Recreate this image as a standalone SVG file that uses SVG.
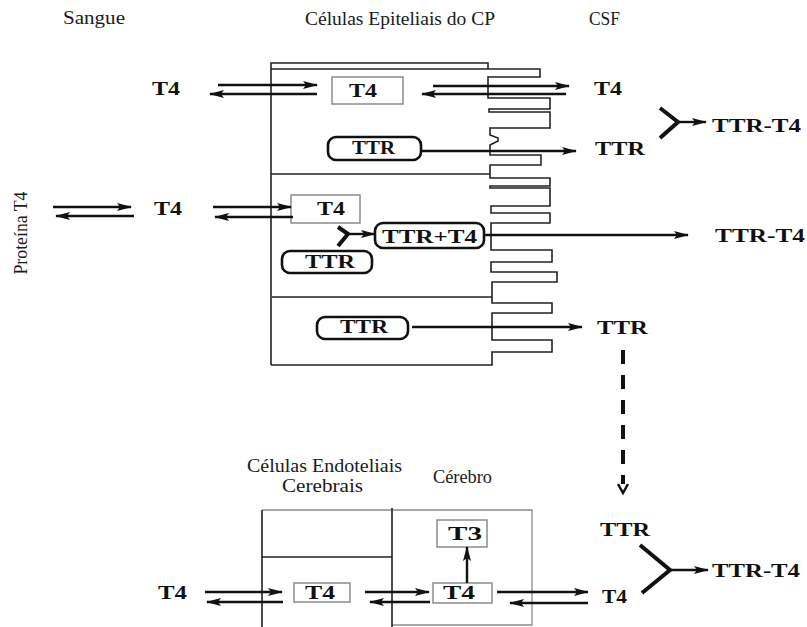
<svg xmlns="http://www.w3.org/2000/svg" width="807" height="627" viewBox="0 0 807 627">
<defs>
<style>
.hdr{font-size:18px;fill:#1a1a1a}
.lbl{font-weight:bold;font-size:18px;fill:#111}
.arr{stroke:#111;stroke-width:2.4;fill:none;marker-end:url(#ah)}
.thk{stroke:#111;stroke-width:4;fill:none}
.box{fill:#fff;stroke:#8c8c8c;stroke-width:1.5}
.rbox{fill:#fff;stroke:#111;stroke-width:2.6}
.wall{fill:none;stroke:#222;stroke-width:1.6}
.thin{fill:none;stroke:#8c8c8c;stroke-width:1.3}
</style>
<marker id="ah" viewBox="0 0 15 9" refX="14" refY="4.5" markerWidth="15" markerHeight="9" orient="auto" markerUnits="userSpaceOnUse">
<path d="M0,0.5 L15,4.5 L0,8.5 L3,4.5z" fill="#111"/>
</marker>
<marker id="ahb" viewBox="0 0 14 11" refX="13" refY="5.5" markerWidth="14" markerHeight="11" orient="auto" markerUnits="userSpaceOnUse">
<path d="M0,0 L14,5.5 L0,11 L2,5.5z" fill="#111"/>
</marker>
</defs>
<rect width="807" height="627" fill="#fff"/>

<g id="headers" font-family="Liberation Serif">
<text class="hdr" x="63" y="24" textLength="62" lengthAdjust="spacingAndGlyphs">Sangue</text>
<text class="hdr" x="305" y="25" textLength="190" lengthAdjust="spacingAndGlyphs">Células Epiteliais do CP</text>
<text class="hdr" x="589" y="25" textLength="31" lengthAdjust="spacingAndGlyphs">CSF</text>
<text class="hdr" transform="translate(27,233) rotate(-90)" text-anchor="middle" textLength="83" lengthAdjust="spacingAndGlyphs">Proteína T4</text>
</g>

<g id="cp-cell">
<path class="wall" d="M271,365 V63 H488 V69"/>
<path class="wall" d="M271,69 H540 V77 H488 V98 H550 V109 H489 V112 H550 V128 H490 V135 L498,138 L498,141 L490,145 V155 H541 V165 H490 V178 H550 V186 H490 V188 H550 V206 H491 V213 H550 V223 H491 V250 H552 V262 H491 V272 H557 V282 H492 V303 H552 V313 H492 V340 H552 V352 H492 V365 H271"/>
<path class="wall" d="M271,174 H490 M272,297 H492"/>
</g>

<g id="brain-cells">
<path class="thin" d="M262,510 H532 V625 H392"/>
<path class="wall" stroke-width="2.4" d="M262,510 V627 M392,508 V627"/>
<path class="wall" d="M262,557 H392"/>
</g>

<g id="nodes" font-family="Liberation Serif">
<g id="n-t4-blood1"><text class="lbl" x="152" y="95" textLength="28" lengthAdjust="spacingAndGlyphs">T4</text></g>
<g id="n-t4-cp1"><rect class="box" x="332" y="77" width="71" height="27"/><text class="lbl" x="349" y="97" textLength="28" lengthAdjust="spacingAndGlyphs">T4</text></g>
<g id="n-t4-csf1"><text class="lbl" x="594" y="95" textLength="28" lengthAdjust="spacingAndGlyphs">T4</text></g>
<g id="n-ttr-cp2"><rect class="rbox" x="328" y="137" width="93" height="23" rx="8"/><text class="lbl" x="352" y="154" textLength="43" lengthAdjust="spacingAndGlyphs">TTR</text></g>
<g id="n-ttr-csf2"><text class="lbl" x="595" y="155" textLength="50" lengthAdjust="spacingAndGlyphs">TTR</text></g>
<g id="n-ttrt4-csf1"><text class="lbl" x="712" y="132" textLength="89" lengthAdjust="spacingAndGlyphs">TTR-T4</text></g>
<g id="n-t4-blood3"><text class="lbl" x="154" y="215" textLength="28" lengthAdjust="spacingAndGlyphs">T4</text></g>
<g id="n-t4-cp3"><rect class="box" x="291" y="195" width="69" height="28"/><text class="lbl" x="317" y="215" textLength="28" lengthAdjust="spacingAndGlyphs">T4</text></g>
<g id="n-ttrt4-cp3"><rect class="rbox" x="375" y="223" width="109" height="25" rx="8"/><text class="lbl" x="382" y="243" textLength="95" lengthAdjust="spacingAndGlyphs">TTR+T4</text></g>
<g id="n-ttr-cp3"><rect class="rbox" x="282" y="251" width="90" height="22" rx="8"/><text class="lbl" x="305" y="268" textLength="50" lengthAdjust="spacingAndGlyphs">TTR</text></g>
<g id="n-ttrt4-csf3"><text class="lbl" x="715" y="242" textLength="90" lengthAdjust="spacingAndGlyphs">TTR-T4</text></g>
<g id="n-ttr-cp4"><rect class="rbox" x="317" y="317" width="91" height="22" rx="8"/><text class="lbl" x="340" y="333" textLength="48" lengthAdjust="spacingAndGlyphs">TTR</text></g>
<g id="n-ttr-csf4"><text class="lbl" x="597" y="334" textLength="51" lengthAdjust="spacingAndGlyphs">TTR</text></g>
<g id="n-endo-label"><text class="hdr" x="247" y="472" textLength="155" lengthAdjust="spacingAndGlyphs">Células Endoteliais</text><text class="hdr" x="282" y="492" textLength="81" lengthAdjust="spacingAndGlyphs">Cerebrais</text></g>
<g id="n-brain-label"><text class="hdr" x="433" y="483" textLength="59" lengthAdjust="spacingAndGlyphs">Cérebro</text></g>
<g id="n-t4-blood5"><text class="lbl" x="158" y="599" textLength="29" lengthAdjust="spacingAndGlyphs">T4</text></g>
<g id="n-t4-endo"><rect class="box" x="294" y="583" width="56" height="19"/><text class="lbl" x="305" y="599" textLength="30" lengthAdjust="spacingAndGlyphs">T4</text></g>
<g id="n-t3"><rect class="box" x="437" y="520" width="50" height="27"/><text class="lbl" x="448" y="540" textLength="34" lengthAdjust="spacingAndGlyphs" fill="#333">T3</text></g>
<g id="n-t4-brain"><rect class="box" x="433" y="583" width="59" height="20"/><text class="lbl" x="443" y="599" textLength="32" lengthAdjust="spacingAndGlyphs">T4</text></g>
<g id="n-ttr-csf5"><text class="lbl" x="600" y="536" textLength="50" lengthAdjust="spacingAndGlyphs">TTR</text></g>
<g id="n-t4-csf5"><text class="lbl" x="602" y="603" textLength="25" lengthAdjust="spacingAndGlyphs">T4</text></g>
<g id="n-ttrt4-csf5"><text class="lbl" x="712" y="577" textLength="88" lengthAdjust="spacingAndGlyphs">TTR-T4</text></g>
</g>

<g id="connectors">
<line class="arr" x1="218" y1="85" x2="317" y2="85"/>
<line class="arr" x1="317" y1="94" x2="210" y2="94"/>
<line class="arr" x1="433" y1="86" x2="569" y2="86"/>
<line class="arr" x1="566" y1="94" x2="422" y2="94"/>
<line class="arr" x1="421" y1="151" x2="576" y2="151"/>
<path class="thk" d="M660,108 L678,122 L660,138"/>
<line class="arr" x1="678" y1="122" x2="706" y2="122"/>
<line class="arr" x1="53" y1="207" x2="131" y2="207"/>
<line class="arr" x1="134" y1="216" x2="56" y2="216"/>
<line class="arr" x1="213" y1="207" x2="291" y2="207"/>
<line class="arr" x1="293" y1="217" x2="215" y2="217"/>
<path class="thk" stroke-width="3" d="M338,227 L348,234 L338,246"/>
<line class="arr" x1="348" y1="234" x2="375" y2="234"/>
<line class="arr" x1="484" y1="235" x2="688" y2="235"/>
<line class="arr" stroke-width="4" marker-end="url(#ahb)" x1="412" y1="327" x2="582" y2="327"/>
<line class="thk" stroke-dasharray="14 11" x1="623" y1="350" x2="623" y2="484"/>
<path d="M618,484 L623,493 L628,484" fill="none" stroke="#111" stroke-width="2.5"/>
<path class="thk" d="M640,545 L670,570 L642,593"/>
<line class="arr" x1="670" y1="570" x2="708" y2="570"/>
<line class="arr" x1="205" y1="592" x2="282" y2="592"/>
<line class="arr" x1="283" y1="602" x2="207" y2="602"/>
<line class="arr" x1="365" y1="592" x2="429" y2="592"/>
<line class="arr" x1="430" y1="602" x2="370" y2="602"/>
<line class="arr" x1="497" y1="592" x2="588" y2="592"/>
<line class="arr" x1="588" y1="603" x2="510" y2="603"/>
<line class="arr" stroke-width="4" marker-end="url(#ahb)" x1="467" y1="583" x2="467" y2="547"/>
</g>
</svg>
